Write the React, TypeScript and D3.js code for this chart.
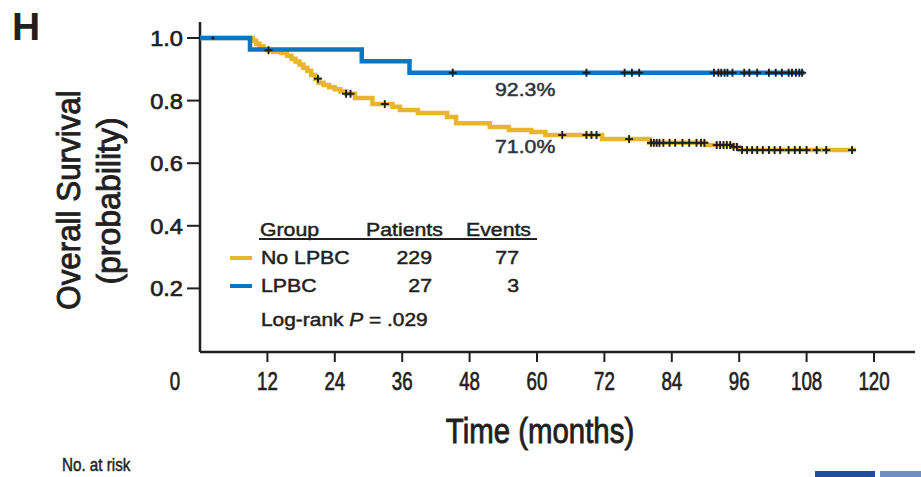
import React from 'react'
import * as d3 from 'd3'

// x ticks (months) and y ticks (probability)
const monthTicks = [0, 12, 24, 36, 48, 60, 72, 84, 96, 108, 120]
const probTicks = [0.2, 0.4, 0.6, 0.8, 1.0]

// Kaplan-Meier steps: [time, survival after the drop]
const noLpbcSteps: [number, number][] = [
  [0, 1], [9.4, 0.991], [10.0, 0.982], [10.6, 0.974], [11.3, 0.965], [11.9, 0.961],
  [13.0, 0.956], [14.5, 0.952], [15.5, 0.943], [16.3, 0.934], [17.0, 0.925],
  [17.7, 0.915], [18.4, 0.905], [19.1, 0.895], [19.8, 0.882], [20.5, 0.87],
  [21.1, 0.857], [22.0, 0.85], [23.0, 0.843], [24.0, 0.836], [25.0, 0.829],
  [26.0, 0.822], [27.6, 0.808], [30.7, 0.789], [34.3, 0.78], [35.6, 0.77],
  [38.8, 0.76], [44.0, 0.748], [45.6, 0.728], [51.6, 0.716], [55.0, 0.706],
  [59.0, 0.7], [61.5, 0.69], [71.6, 0.677], [80.0, 0.665], [90.0, 0.658],
  [95.0, 0.652], [96.0, 0.642], [116.8, 0.642],
]
const lpbcSteps: [number, number][] = [
  [0, 1], [8.9, 0.963], [28.8, 0.926], [37.3, 0.889], [107.6, 0.889],
]

// censoring times
const noLpbcCensored = [
  12.2, 21.0, 26.0, 26.8, 32.9, 64.5, 68.8, 69.7, 70.6, 76.4, 80.3, 80.8, 81.3,
  81.8, 82.5, 83.6, 84.6, 85.9, 87.1, 88.4, 89.2, 89.8, 92.0, 92.6, 93.2, 93.8,
  94.4, 95.0, 95.6, 96.5, 97.4, 98.3, 99.2, 100.2, 101.3, 102.3, 103.3, 104.8,
  105.9, 106.8, 108.0, 109.8, 111.5, 116.1,
]
const lpbcCensored = [
  2.3, 45.0, 68.8, 75.6, 76.9, 78.2, 91.5, 92.3, 92.8, 93.4, 93.9, 94.8, 96.9,
  97.8, 99.2, 101.3, 102.5, 103.6, 104.8, 105.4, 106.1, 106.7, 107.2,
]

const groups = ['No LPBC', 'LPBC']
const patients = [229, 27]
const events = [77, 3]
const endLabels = ['71.0%', '92.3%']

const YELLOW = '#e8b52c'
const BLUE = '#0b77c2'
const INK = '#231f20'
const FONT = '"Liberation Sans", Arial, Helvetica, sans-serif'

const x = d3.scaleLinear().domain([0, 120]).range([200, 874])
const y = d3.scaleLinear().domain([0, 1]).range([351, 38])

const line = d3
  .line<[number, number]>()
  .x(d => x(d[0]))
  .y(d => y(d[1]))
  .curve(d3.curveStepAfter)

const survAt = (steps: [number, number][], t: number) => {
  const i = d3.bisector((d: [number, number]) => d[0]).right(steps, t) - 1
  return steps[Math.max(0, i)][1]
}

function T(props: {
  x: number
  y: number
  size: number
  sx?: number
  anchor?: string
  weight?: string
  fill?: string
  rotate?: number
  heavy?: number
  children: React.ReactNode
}) {
  const { sx = 1, anchor = 'start', weight = 'normal', fill = INK, rotate = 0, heavy = 0.5 } = props
  return (
    <text
      transform={`translate(${props.x},${props.y}) rotate(${rotate}) scale(${sx},1)`}
      textAnchor={anchor}
      fontSize={props.size}
      fontWeight={weight}
      fill={fill}
      stroke={fill}
      strokeWidth={heavy}
      fontFamily={FONT}
    >
      {props.children}
    </text>
  )
}

function Censor({ t, steps, small }: { t: number; steps: [number, number][]; small?: boolean }) {
  const cx = x(t)
  const cy = y(survAt(steps, t))
  const r = small ? 1.5 : 4
  return (
    <g stroke="#1e1e1e" strokeWidth={1.9}>
      <line x1={cx - r} x2={cx + r} y1={cy} y2={cy} />
      <line x1={cx} x2={cx} y1={cy - r} y2={cy + r} />
    </g>
  )
}

export default function App() {
  const colors = [YELLOW, BLUE]
  const allSteps = [noLpbcSteps, lpbcSteps]
  return (
    <svg
      width={921}
      height={477}
      style={{ position: 'absolute', left: 0, top: 0, background: '#fff' }}
    >
      {/* panel letter */}
      <T x={12} y={40} size={39} weight="bold" heavy={0}>H</T>

      {/* y axis */}
      <line x1={x(0)} x2={x(0)} y1={22} y2={352} stroke={INK} strokeWidth={2.5} />
      {probTicks.map(p => (
        <g key={p}>
          <line x1={x(0) - 13} x2={x(0)} y1={y(p)} y2={y(p)} stroke={INK} strokeWidth={2} />
          <T x={183} y={y(p) + 8} size={22.5} anchor="end" sx={1.05} heavy={0.7}>
            {p.toFixed(1)}
          </T>
        </g>
      ))}
      <T x={80} y={200} size={33} anchor="middle" rotate={-90} sx={0.95} heavy={0.9}>
        Overall Survival
      </T>
      <T x={120} y={201} size={33} anchor="middle" rotate={-90} sx={0.97} heavy={0.9}>
        (probability)
      </T>

      {/* x axis */}
      <line x1={x(0)} x2={915} y1={352} y2={352} stroke={INK} strokeWidth={2.5} />
      {monthTicks.map(m => (
        <g key={m}>
          {m > 0 && (
            <line x1={x(m)} x2={x(m)} y1={352} y2={362} stroke={INK} strokeWidth={2} />
          )}
          <T x={m === 0 ? x(m) - 25 : x(m)} y={390} size={26} anchor="middle" sx={0.72} heavy={0.7}>
            {m}
          </T>
        </g>
      ))}
      <T x={540} y={443} size={35} anchor="middle" sx={0.84} heavy={0.9}>
        Time (months)
      </T>

      {/* curves */}
      {allSteps.map((s, i) => (
        <path key={i} d={line(s) ?? ''} fill="none" stroke={colors[i]} strokeWidth={4.5} />
      ))}
      {noLpbcCensored.map((t, i) => (
        <Censor key={'n' + i} t={t} steps={noLpbcSteps} />
      ))}
      {lpbcCensored.map((t, i) => (
        <Censor key={'l' + i} t={t} steps={lpbcSteps} small={i === 0} />
      ))}

      {/* end-of-curve percentages */}
      <T x={495} y={96} size={19} sx={1.12} fill="#2e3440">{endLabels[1]}</T>
      <T x={495} y={153} size={19} sx={1.12} fill="#2e3440">{endLabels[0]}</T>

      {/* legend table */}
      <T x={260} y={236} size={19} sx={1.12}>Group</T>
      <T x={366} y={236} size={19} sx={1.12}>Patients</T>
      <T x={466} y={236} size={19} sx={1.12}>Events</T>
      <line x1={259} x2={537} y1={239} y2={239} stroke={INK} strokeWidth={2} />
      {groups.map((g, i) => (
        <g key={g}>
          <line
            x1={230}
            x2={252}
            y1={258 + i * 28}
            y2={258 + i * 28}
            stroke={colors[i]}
            strokeWidth={4}
          />
          <T x={261} y={264 + i * 28} size={19} sx={1.12}>{g}</T>
          <T x={432} y={264 + i * 28} size={19} sx={1.12} anchor="end">{patients[i]}</T>
          <T x={519} y={264 + i * 28} size={19} sx={1.12} anchor="end">{events[i]}</T>
        </g>
      ))}
      <text
        transform="translate(261,326) scale(1.1,1)"
        fontSize={19}
        fill={INK}
        stroke={INK}
        strokeWidth={0.5}
        fontFamily={FONT}
      >
        Log-rank <tspan fontStyle="italic">P</tspan> = .029
      </text>

      {/* table heading at the bottom */}
      <T x={62} y={471} size={19} sx={0.8}>No. at risk</T>
      <rect x={815} y={471} width={60} height={6} fill="#1c4f9c" />
      <rect x={880} y={471} width={41} height={6} fill="#6f8fc4" />
    </svg>
  )
}
